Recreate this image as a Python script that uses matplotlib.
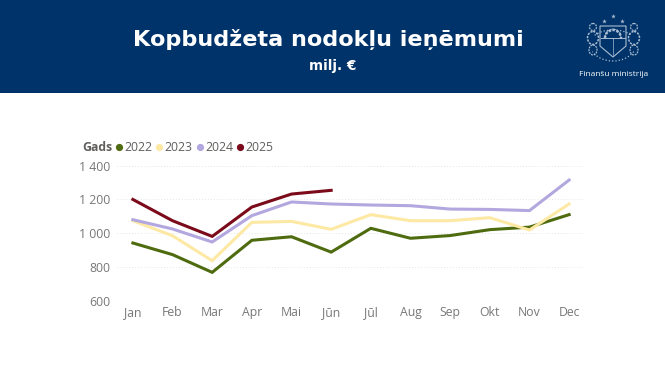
import matplotlib
matplotlib.use("Agg")
import matplotlib.pyplot as plt
from matplotlib.patches import Rectangle, Ellipse, Polygon, Arc

months = ["Jan", "Feb", "Mar", "Apr", "Mai", "Jūn", "Jūl", "Aug", "Sep", "Okt", "Nov", "Dec"]
y2022 = [942, 873, 768, 958, 979, 888, 1029, 970, 986, 1021, 1036, 1110]
y2023 = [1074, 985, 837, 1064, 1070, 1023, 1110, 1074, 1074, 1092, 1019, 1173]
y2024 = [1080, 1025, 948, 1104, 1185, 1173, 1167, 1163, 1143, 1141, 1134, 1315]
y2025 = [1200, 1074, 981, 1155, 1232, 1254]
years = ["2022", "2023", "2024", "2025"]
colors = ["#4e6b0f", "#fde9a4", "#b3a7e0", "#7b0a1a"]
yticks = [600, 800, 1000, 1200, 1400]

W, H = 665, 375
NAVY = "#00336a"
plt.rcParams["font.family"] = ["Open Sans", "DejaVu Sans"]

fig = plt.figure(figsize=(W / 100, H / 100), dpi=100)

# overlay in pixel coordinates for header and legend
bg = fig.add_axes([0, 0, 1, 1])
bg.set_xlim(0, W)
bg.set_ylim(H, 0)
bg.axis("off")
bg.add_patch(Rectangle((0, 0), W, 93, color=NAVY, lw=0))
bg.text(328.5, 40, "Kopbudžeta nodokļu ieņēmumi", color="white", ha="center", va="center",
        fontsize=16.15, fontweight="bold", family="DejaVu Sans")
bg.text(333, 66, "milj. €", color="white", ha="center", va="center",
        fontsize=9.8, fontweight="bold", family="DejaVu Sans")
bg.text(613.5, 74, "Finanšu ministrija", color="white", ha="center", va="center", fontsize=6.0)

# rough coat of arms
logo = "#a9bcd2"
bg.add_patch(Polygon([(600, 26), (626, 26), (626, 46), (613, 57), (600, 46)], closed=True,
                     fill=False, ec=logo, lw=0.8))
bg.add_patch(Arc((613, 38), 16, 16, theta1=180, theta2=360, ec=logo, lw=1.8, ls=(0, (1, 0.6))))
bg.add_patch(Arc((613, 38), 16, 18, theta1=180, theta2=360, ec=logo, lw=0.5))
bg.plot([601, 625], [38, 38], color=logo, lw=0.7)
bg.plot([613, 613], [38, 55], color=logo, lw=0.5)
for cx, cy in [(604, 21), (613, 16), (622, 21)]:
    bg.plot([cx], [cy], "*", color=logo, ms=3.5, mew=0)
for cx in [593, 634]:
    bg.add_patch(Ellipse((cx, 38), 11, 13, fill=False, ec=logo, lw=1.1, ls=(0, (1.5, 0.8))))
    bg.add_patch(Ellipse((cx, 50), 8, 10, fill=False, ec=logo, lw=0.9, ls=(0, (1.5, 0.8))))
    bg.add_patch(Ellipse((cx, 27), 7, 7, fill=False, ec=logo, lw=0.9, ls=(0, (1.5, 0.8))))
bg.add_patch(Arc((613, 42), 48, 38, theta1=25, theta2=155, ec=logo, lw=0.9, ls=":"))
bg.add_patch(Arc((613, 42), 44, 24, theta1=200, theta2=340, ec=logo, lw=0.9, ls=":"))

# legend
bg.text(82, 147.5, "Gads", color="#605e5c", fontsize=8.8, fontweight="bold", va="center")
legend_x = [119, 159, 200, 240]
for x, name, c in zip(legend_x, years, colors):
    bg.plot([x], [147], "o", color=c, ms=5.2, mew=0)
    bg.text(x + 5.5, 147.5, name, color="#605e5c", fontsize=8.8, va="center")

# plot area
left, right, top, bottom = 117, 583, 165.7, 300.7
ax = fig.add_axes([left / W, 1 - bottom / H, (right - left) / W, (bottom - top) / H])
ax.patch.set_alpha(0)
x = list(range(12))
for vals, c in zip([y2022, y2023, y2024, y2025], colors):
    ax.plot(x[:len(vals)], vals, color=c, lw=2.2, solid_joinstyle="miter", clip_on=False)

ax.set_xlim(-0.4, 11.35)
ax.set_ylim(600, 1400)
ax.set_xticks(x)
ax.set_xticklabels(months)
ax.set_yticks(yticks)
ax.set_yticklabels([f"{v:,}".replace(",", " ") for v in yticks])
ax.tick_params(length=0, labelsize=8.8, labelcolor="#777777")
ax.tick_params(axis="x", pad=4)
ax.tick_params(axis="y", pad=5)
ax.grid(axis="y", color="#e6e6e6", lw=0.7, ls=(0, (1, 2)))
ax.set_axisbelow(True)
for s in ax.spines.values():
    s.set_visible(False)

fig.savefig("out.png", dpi=100)
